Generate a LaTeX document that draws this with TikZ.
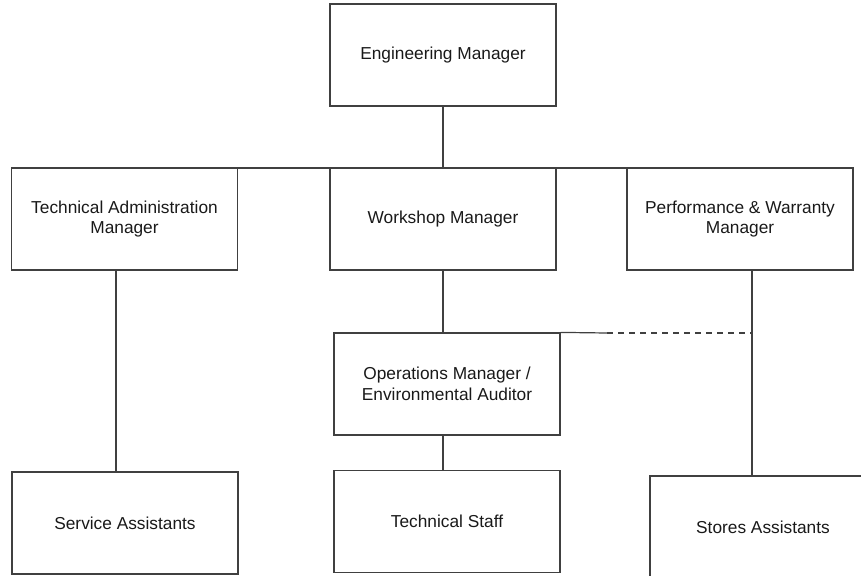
\documentclass[tikz,border=0pt]{standalone}
\usepackage{fontspec}
\setmainfont{Liberation Sans}
\begin{document}
\begin{tikzpicture}[x=1pt,y=-1pt,
  orgbox/.style={draw=black!75, line width=1.2pt, minimum width=226pt, minimum height=102pt,
    inner sep=0pt, align=center, font=\fontsize{17.3}{20.5}\selectfont, text=black!90},
  link/.style={draw=black!75, line width=1.2pt},
  dashlink/.style={link, dash pattern=on 6pt off 5pt}]
\useasboundingbox (0,0) rectangle (861,575);
\clip (0,0) rectangle (861,575);
\node[orgbox] (em) at (443,55) {Engineering Manager};
\node[orgbox] (tam) at (124.5,219) {Technical Administration\\Manager};
\node[orgbox] (wm) at (443,219) {Workshop Manager};
\node[orgbox] (pwm) at (740,219) {Performance \& Warranty\\Manager};
\node[orgbox] (om) at (447,384) {Operations Manager /\\Environmental Auditor};
\node[orgbox] (ts) at (447,521.5) {Technical Staff};
\node[orgbox] (sa) at (125,523) {Service Assistants};
\node[orgbox] (st) at (763,527) {Stores Assistants};
\coordinate (jl) at (116,168);
\coordinate (jr) at (752,168);
\coordinate (dm) at (607,333);
\path[link] (jl) -- (jr);
\path[link] (em.south -| wm.north) -- (wm.north);
\path[link] (tam.south -| jl) -- (sa.north -| jl);
\path[link] (wm.south) -- (wm.south |- om.north);
\path[link] (om.south -| wm.south) -- (ts.north -| wm.south);
\path[link] (pwm.south -| jr) -- (st.north -| jr);
\path[link] (om.north east) -- (dm);
\path[dashlink] (dm) -- (dm -| jr);
\end{tikzpicture}
\end{document}
